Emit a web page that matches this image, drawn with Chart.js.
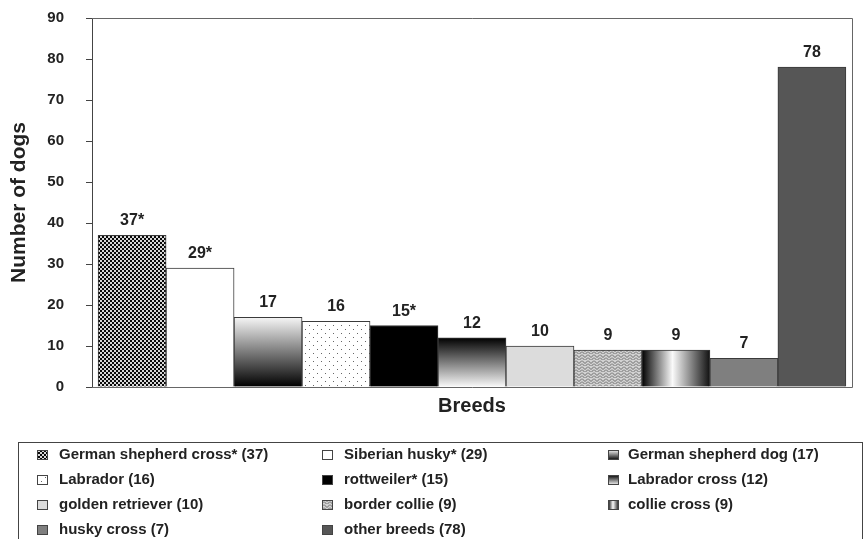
<!DOCTYPE html>
<html>
<head>
<meta charset="utf-8">
<script src="https://cdn.jsdelivr.net/npm/chart.js@4.4.1/dist/chart.umd.min.js"></script>
<style>
  html, body { margin: 0; padding: 0; background: #fff; }
  canvas { display: block; }
</style>
</head>
<body>
<canvas id="dogChart" width="864" height="539"></canvas>
<script>
// data
const breeds = ["German shepherd cross", "Siberian husky", "German shepherd dog", "Labrador", "rottweiler",
  "Labrador cross", "golden retriever", "border collie", "collie cross", "husky cross", "other breeds"];
const dogCounts = [37, 29, 17, 16, 15, 12, 10, 9, 9, 7, 78];
const starred = [true, true, false, false, true, false, false, false, false, false, false];
const yTicks = [0, 10, 20, 30, 40, 50, 60, 70, 80, 90];

const FONT = '"Liberation Sans", Arial, Helvetica, sans-serif';
const INK = "#222";

function makeTile(w, h, draw) {
  const c = document.createElement("canvas");
  c.width = w; c.height = h;
  draw(c.getContext("2d"));
  return c;
}

const checkTile = makeTile(4, 4, g => {
  g.fillStyle = "#0a0a0a"; g.fillRect(0, 0, 4, 4);
  g.fillStyle = "#d8d8d8"; g.fillRect(0, 0, 2, 2); g.fillRect(2, 2, 2, 2);
});
const dotTile = makeTile(8, 8, g => {
  g.fillStyle = "#fff"; g.fillRect(0, 0, 8, 8);
  g.fillStyle = "#666"; g.fillRect(1, 1, 1, 1); g.fillRect(5, 5, 1, 1);
});
const zigTile = makeTile(6, 6, g => {
  g.fillStyle = "#d2d2d2"; g.fillRect(0, 0, 6, 6);
  g.strokeStyle = "#6a6a6a"; g.lineWidth = 1;
  g.beginPath();
  g.moveTo(0, 0.5); g.lineTo(3, 3.5); g.lineTo(6, 0.5);
  g.moveTo(0, 3.5); g.lineTo(3, 6.5); g.lineTo(6, 3.5);
  g.stroke();
});

function vGrad(g, b, c0, c1) {
  const gr = g.createLinearGradient(0, b.top, 0, b.bottom);
  gr.addColorStop(0, c0); gr.addColorStop(1, c1);
  return gr;
}
function hGrad(g, b) {
  const gr = g.createLinearGradient(b.left, 0, b.right, 0);
  gr.addColorStop(0, "#000");
  gr.addColorStop(0.45, "#fafafa");
  gr.addColorStop(1, "#111");
  return gr;
}

// one fill per breed, in the same order
const barFills = [
  g => g.createPattern(checkTile, "repeat"),
  () => "#ffffff",
  (g, b) => vGrad(g, b, "#f6f6f6", "#000"),
  g => g.createPattern(dotTile, "repeat"),
  () => "#000000",
  (g, b) => vGrad(g, b, "#000", "#fafafa"),
  () => "#dcdcdc",
  g => g.createPattern(zigTile, "repeat"),
  (g, b) => hGrad(g, b),
  () => "#7f7f7f",
  () => "#565656"
];

const frame = {
  id: "frame",
  beforeDatasetsDraw(chart) {
    const { ctx, chartArea: a } = chart;
    ctx.save();
    ctx.strokeStyle = "#666";
    ctx.lineWidth = 1;
    ctx.beginPath();
    ctx.moveTo(a.left, a.top + 0.5);
    ctx.lineTo(a.right + 0.5, a.top + 0.5);
    ctx.lineTo(a.right + 0.5, a.bottom + 0.5);
    ctx.lineTo(a.left, a.bottom + 0.5);
    ctx.stroke();
    ctx.restore();
  }
};

const valueLabels = {
  id: "valueLabels",
  afterDatasetsDraw(chart) {
    const ctx = chart.ctx;
    ctx.save();
    ctx.font = "bold 16px " + FONT;
    ctx.fillStyle = INK;
    ctx.textAlign = "center";
    ctx.textBaseline = "alphabetic";
    chart.getDatasetMeta(0).data.forEach((bar, i) => {
      ctx.fillText(dogCounts[i] + (starred[i] ? "*" : ""), bar.x, bar.y - 10);
    });
    ctx.restore();
  }
};

const boxLegend = {
  id: "boxLegend",
  afterDraw(chart) {
    const ctx = chart.ctx;
    ctx.save();
    ctx.strokeStyle = "#444";
    ctx.lineWidth = 1;
    ctx.strokeRect(18.5, 442.5, 844, 120);
    const markX = [37, 322, 608];
    const textX = [59, 344, 628];
    ctx.font = "bold 15px " + FONT;
    ctx.textBaseline = "middle";
    ctx.textAlign = "left";
    breeds.forEach((name, i) => {
      const col = i % 3, row = Math.floor(i / 3);
      const y = 455 + row * 25;
      const b = { left: markX[col], right: markX[col] + 11, top: y - 5, bottom: y + 5 };
      ctx.fillStyle = barFills[i](ctx, b);
      ctx.fillRect(b.left, b.top, 11, 10);
      ctx.strokeStyle = "#444";
      ctx.strokeRect(b.left + 0.5, b.top + 0.5, 10, 9);
      ctx.fillStyle = INK;
      ctx.fillText(name + (starred[i] ? "*" : "") + " (" + dogCounts[i] + ")", textX[col], y);
    });
    ctx.restore();
  }
};

new Chart(document.getElementById("dogChart"), {
  type: "bar",
  data: {
    datasets: [{
      label: "Number of dogs",
      data: dogCounts.map((v, i) => ({ x: i, y: v })),
      backgroundColor: c => {
        const chart = c.chart, i = c.dataIndex;
        const xs = chart.scales.x, ys = chart.scales.y;
        if (!xs || !ys || !chart.chartArea || i === undefined) return "#888";
        const cx = xs.getPixelForValue(i);
        const box = { left: cx - 34, right: cx + 34, top: ys.getPixelForValue(dogCounts[i]), bottom: ys.getPixelForValue(0) };
        return barFills[i](chart.ctx, box);
      },
      borderColor: "#3a3a3a",
      borderWidth: 1,
      barThickness: 68
    }]
  },
  options: {
    responsive: false,
    animation: false,
    devicePixelRatio: 1,
    layout: { padding: { top: 18, right: 12, bottom: 112, left: 0 } },
    plugins: { legend: { display: false }, tooltip: { enabled: false } },
    scales: {
      x: {
        type: "linear",
        bounds: "data",
        offset: false,
        min: -0.59,
        max: 10.59,
        ticks: { display: false, stepSize: 1, includeBounds: false },
        grid: { display: false, drawTicks: false, offset: false },
        border: { display: false },
        title: {
          display: true, text: "Breeds", color: INK,
          font: { family: FONT, size: 20, weight: "bold", lineHeight: 1.2 },
          padding: { top: 0, bottom: 9 }
        },
        afterFit: s => { s.height = 40; }
      },
      y: {
        min: 0,
        max: 90,
        afterBuildTicks: s => { s.ticks = yTicks.map(v => ({ value: v })); },
        ticks: { font: { family: FONT, size: 15, weight: "bold" }, color: INK, padding: 22 },
        grid: { drawOnChartArea: false, drawTicks: true, tickLength: 6, color: "#444" },
        border: { display: true, color: "#444" },
        title: {
          display: true, text: "Number of dogs", color: INK,
          font: { family: FONT, size: 21, weight: "bold", lineHeight: 1.2 },
          padding: { top: 7, bottom: 0 }
        },
        afterFit: s => { s.width = 92; s.paddingTop = 0; s.paddingBottom = 0; }
      }
    }
  },
  plugins: [frame, valueLabels, boxLegend]
});
</script>
</body>
</html>
